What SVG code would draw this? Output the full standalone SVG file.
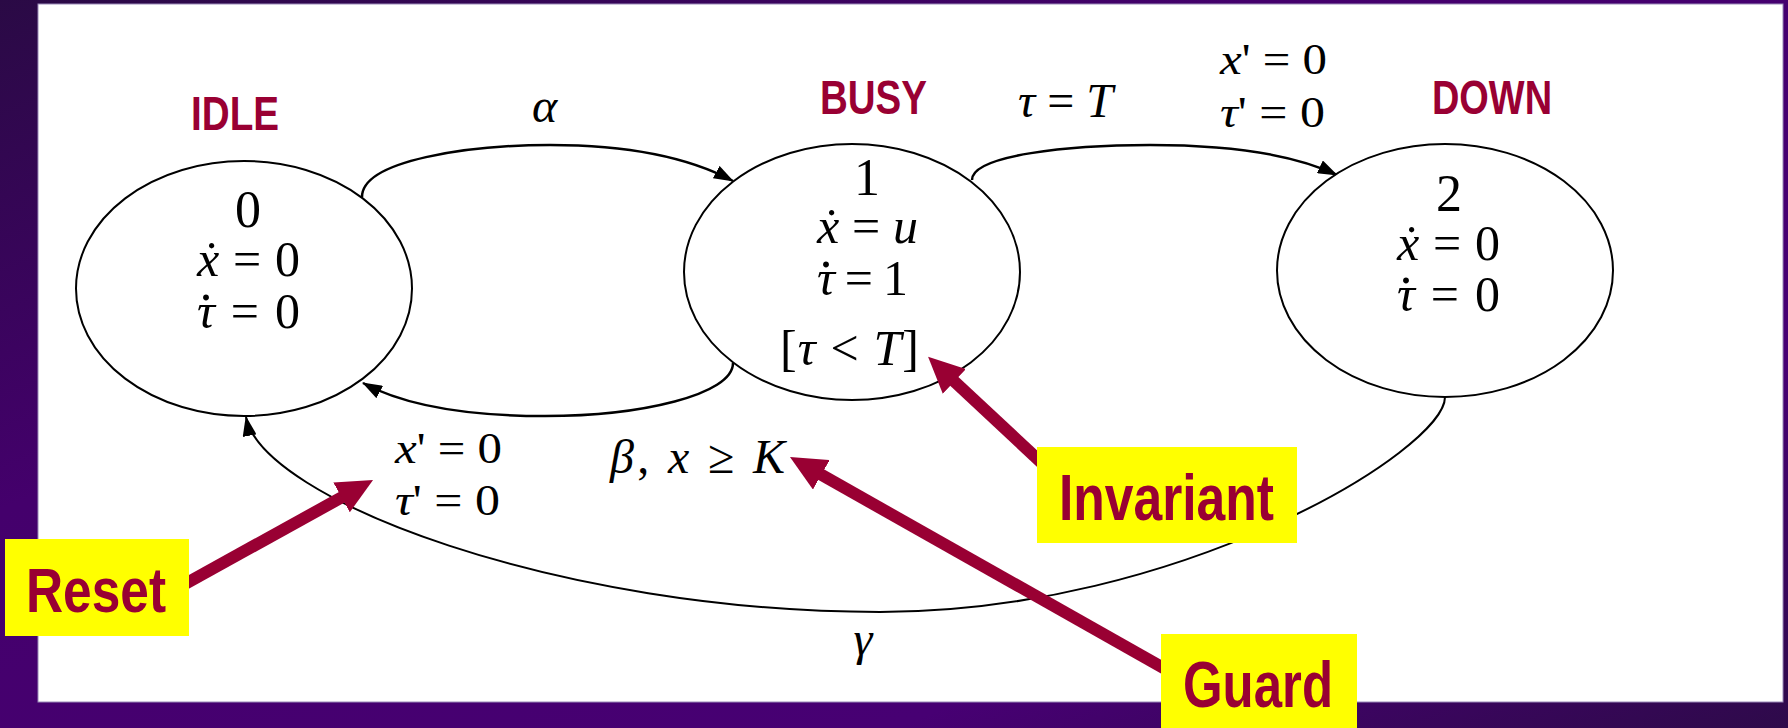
<svg xmlns="http://www.w3.org/2000/svg" width="1788" height="728" viewBox="0 0 1788 728">
<defs>
<linearGradient id="bg" x1="0" y1="0" x2="1" y2="1">
<stop offset="0" stop-color="#2a0a45"/>
<stop offset="0.35" stop-color="#44006c"/>
<stop offset="0.75" stop-color="#470073"/>
<stop offset="1" stop-color="#2e0a4a"/>
</linearGradient>
<marker id="ah" markerUnits="userSpaceOnUse" markerWidth="20" markerHeight="14" refX="19" refY="7" orient="auto">
<path d="M0,0 L20,7 L0,14 z" fill="#000"/>
</marker>
<marker id="ch" markerUnits="userSpaceOnUse" markerWidth="36" markerHeight="34" refX="6" refY="17" orient="auto">
<path d="M0,0 L36,17 L0,34 z" fill="#990033"/>
</marker>
</defs>
<style>
.node ellipse{fill:#fff;stroke:#000;stroke-width:2}
.m{font-family:"Liberation Serif","Times New Roman",serif;fill:#000}
.i{font-style:italic}
.dot{font-family:"Liberation Serif","Times New Roman",serif;fill:#000;font-size:50px;text-anchor:middle}
.title{font-family:"Liberation Sans",Arial,sans-serif;font-weight:bold;fill:#990033}
.arc{fill:none;stroke:#000;stroke-width:2.5;marker-end:url(#ah)}
.call{stroke:#990033;stroke-width:12;marker-end:url(#ch)}
.box{fill:#ffff00}
</style>
<rect x="0" y="0" width="1788" height="728" fill="url(#bg)"/>
<rect x="38" y="4" width="1745" height="698" fill="#fff" stroke="#9a8ab8" stroke-width="1"/>

<g id="connectors">
<path class="arc" d="M362,197 C362,160 470,145 550,145 C630,145 690,158 733,181"/>
<path class="arc" d="M733,363 C733,395 640,416 545,416 C460,416 400,403 363,383"/>
<path class="arc" d="M972,180 C972,155 1070,145 1150,145 C1230,145 1295,155 1337,175"/>
<path class="arc" d="M1445,397 C1445,450 1180,612 880,612 C560,612 262,500 246,417" style="stroke-width:2"/>
</g>

<g id="idle" class="node">
<ellipse cx="244" cy="288.5" rx="168" ry="127.5"/>
<text class="title" x="191" y="130" font-size="49" textLength="88" lengthAdjust="spacingAndGlyphs">IDLE</text>
<text class="m" x="248" y="227" text-anchor="middle" font-size="52">0</text>
<text class="m" x="197" y="276" font-size="50" textLength="103"><tspan class="i">x&#x307;</tspan> = 0</text>
<text class="m" x="197" y="328" font-size="50" textLength="103"><tspan class="i">τ</tspan> = 0</text>
<text class="dot" x="206" y="300">.</text>
</g>

<g id="busy" class="node">
<ellipse cx="852" cy="272" rx="168" ry="128"/>
<text class="title" x="820" y="114" font-size="48" textLength="107" lengthAdjust="spacingAndGlyphs">BUSY</text>
<text class="m" x="867" y="195" text-anchor="middle" font-size="52">1</text>
<text class="m" x="817" y="243" font-size="50" textLength="101"><tspan class="i">x&#x307;</tspan> = <tspan class="i">u</tspan></text>
<text class="m" x="817" y="295" font-size="50" textLength="91"><tspan class="i">τ</tspan> = 1</text>
<text class="dot" x="826" y="267">.</text>
<text class="m" x="780" y="365" font-size="50" textLength="139">[<tspan class="i">τ</tspan> &lt; <tspan class="i">T</tspan>]</text>
</g>

<g id="down" class="node">
<ellipse cx="1445" cy="270.5" rx="168" ry="126.5"/>
<text class="title" x="1432" y="114" font-size="48" textLength="120" lengthAdjust="spacingAndGlyphs">DOWN</text>
<text class="m" x="1449" y="211" text-anchor="middle" font-size="52">2</text>
<text class="m" x="1397" y="260" font-size="50" textLength="103"><tspan class="i">x&#x307;</tspan> = 0</text>
<text class="m" x="1397" y="311" font-size="50" textLength="103"><tspan class="i">τ</tspan> = 0</text>
<text class="dot" x="1406" y="283">.</text>
</g>

<g id="edge-labels">
<text class="m i" x="532" y="122" font-size="48">α</text>
<text class="m" x="1018" y="117" font-size="48" textLength="95"><tspan class="i">τ</tspan> = <tspan class="i">T</tspan></text>
<text class="m" x="1220" y="74" font-size="44" textLength="107" lengthAdjust="spacingAndGlyphs"><tspan class="i">x</tspan>' = 0</text>
<text class="m" x="1220" y="127" font-size="44" textLength="105" lengthAdjust="spacingAndGlyphs"><tspan class="i">τ</tspan>' = 0</text>
<text class="m" x="395" y="463" font-size="44" textLength="107" lengthAdjust="spacingAndGlyphs"><tspan class="i">x</tspan>' = 0</text>
<text class="m" x="395" y="515" font-size="44" textLength="105" lengthAdjust="spacingAndGlyphs"><tspan class="i">τ</tspan>' = 0</text>
<text class="m" x="610" y="473" font-size="48" textLength="175"><tspan class="i">β</tspan>, <tspan class="i">x</tspan> ≥ <tspan class="i">K</tspan></text>
<text class="m i" x="863" y="655" text-anchor="middle" font-size="48">γ</text>
</g>

<g id="callouts">
<line class="call" x1="185" y1="584" x2="346.8" y2="494.5"/>
<line class="call" x1="1045" y1="466" x2="950" y2="377.3"/>
<line class="call" x1="1167" y1="670" x2="816.1" y2="471.8"/>
</g>

<g id="reset">
<rect class="box" x="5" y="539" width="184" height="97"/>
<text class="title" x="26" y="612" font-size="63" textLength="140" lengthAdjust="spacingAndGlyphs">Reset</text>
</g>
<g id="invariant">
<rect class="box" x="1037" y="447" width="260" height="96"/>
<text class="title" x="1059" y="520" font-size="65" textLength="215" lengthAdjust="spacingAndGlyphs">Invariant</text>
</g>
<g id="guard">
<rect class="box" x="1161" y="634" width="196" height="94"/>
<text class="title" x="1183" y="707" font-size="65" textLength="150" lengthAdjust="spacingAndGlyphs">Guard</text>
</g>
</svg>
